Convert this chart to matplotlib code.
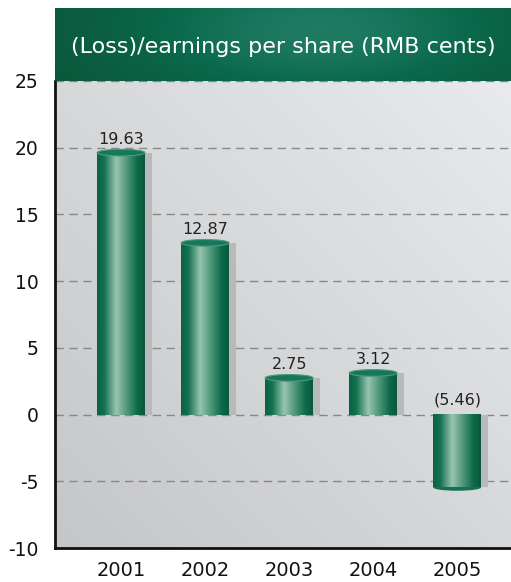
import numpy as np
import matplotlib
matplotlib.use("Agg")
import matplotlib.pyplot as plt
from matplotlib.colors import LinearSegmentedColormap
from matplotlib.patches import Ellipse

years = ["2001", "2002", "2003", "2004", "2005"]
eps = [19.63, 12.87, 2.75, 3.12, -5.46]
eps_labels = ["19.63", "12.87", "2.75", "3.12", "(5.46)"]
yticks = [-10, -5, 0, 5, 10, 15, 20, 25]
title = "(Loss)/earnings per share (RMB cents)"

plt.rcParams['font.family'] = ['DejaVu Sans']
plt.rcParams['axes.unicode_minus'] = False

fig = plt.figure(figsize=(5.11, 5.82), dpi=100)
ax = fig.add_axes([55 / 511, 34 / 582, 1 - 55 / 511, (548 - 81) / 582])

xlim = (-0.786, 4.64)
ylim = (-10, 25)

# grey background gradient, darker bottom-left
gx, gy = np.meshgrid(np.linspace(0, 1, 200), np.linspace(0, 1, 200))
bg = (gx + gy) / 2
bg_cmap = LinearSegmentedColormap.from_list("bg", ["#c5c6c8", "#e9eaec"])
ax.imshow(bg, extent=[xlim[0], xlim[1], ylim[0], ylim[1]], origin="lower",
          cmap=bg_cmap, aspect="auto", zorder=0)

bar_cmap = LinearSegmentedColormap.from_list(
    "bar", [(0, "#0a6244"), (0.15, "#157251"), (0.40, "#98c4b0"),
            (0.58, "#5da083"), (0.85, "#0d6a4a"), (1, "#0a583e")])
hgrad = np.linspace(0, 1, 100).reshape(1, -1)

w = 0.57
cap = 0.5
for i, v in enumerate(eps):
    x0, x1 = i - w / 2, i + w / 2
    # shadow
    ax.bar(i + 0.08, v, width=w, color="#b8b9bb", zorder=2)
    ax.imshow(hgrad, extent=[x0, x1, min(0, v), max(0, v)], cmap=bar_cmap,
              aspect="auto", zorder=3)
    if v > 0:
        ax.add_patch(Ellipse((i, v), w, cap, facecolor="#17775a",
                             edgecolor="#4f9a7b", lw=0.8, zorder=4))
    else:
        ax.add_patch(Ellipse((i, v), w, cap, facecolor="#137255",
                             edgecolor="none", zorder=2.9))
    ty = v + 0.65 if v > 0 else 0.75
    ax.text(i, ty, eps_labels[i], ha="center", va="baseline", fontsize=11.5,
            color="#222222", zorder=5)

ax.set_xlim(*xlim)
ax.set_ylim(*ylim)
ax.set_yticks(yticks)
ax.set_xticks(range(len(years)))
ax.set_xticklabels(years)
ax.tick_params(axis="y", length=0, labelsize=13.5, colors="#111111", pad=12)
ax.tick_params(axis="x", length=0, labelsize=14, colors="#111111", pad=9)
for t in yticks[1:]:
    ax.axhline(t, color="#888888", lw=1, ls=(0, (6, 4)), zorder=1)
for s in ["top", "right"]:
    ax.spines[s].set_visible(False)
for s in ["left", "bottom"]:
    ax.spines[s].set_linewidth(2)
    ax.spines[s].set_color("#111111")
    ax.spines[s].set_zorder(6)

# green title banner
bax = fig.add_axes([55 / 511, (582 - 81) / 582, 1 - 55 / 511, 73 / 582])
bx, by = np.meshgrid(np.linspace(0, 1, 300), np.linspace(0, 1, 80))
rad = np.exp(-(((bx - 0.58) / 0.4) ** 2 + ((by - 0.7) / 0.9) ** 2))
ban_cmap = LinearSegmentedColormap.from_list("ban", ["#0a593d", "#0b6a4c", "#1f7a62"])
bax.imshow(rad, extent=[0, 1, 0, 1], origin="lower", cmap=ban_cmap, aspect="auto")
bax.set_axis_off()
bax.text(0.5, 0.47, title, ha="center", va="center", color="white", fontsize=16,
         transform=bax.transAxes)

fig.savefig("out.png", dpi=100)
